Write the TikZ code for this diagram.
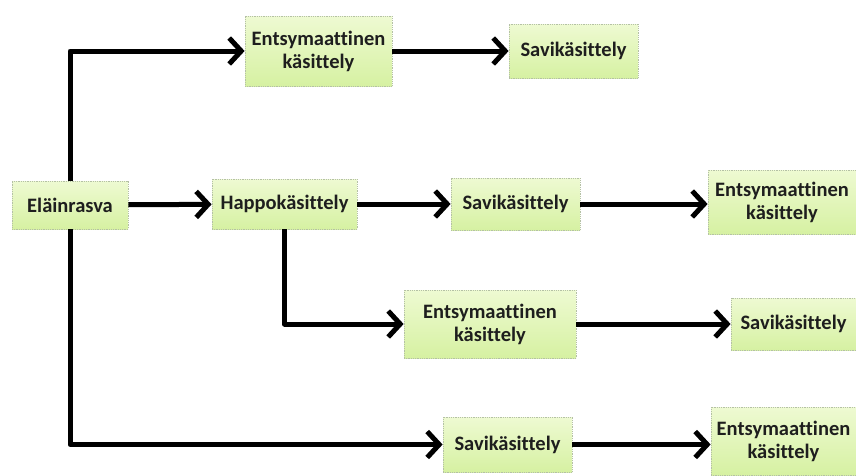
\documentclass[tikz,border=0pt]{standalone}
\usepackage{fontspec}
\setmainfont{Carlito}[Ligatures=NoCommon]
\usetikzlibrary{arrows.meta}
\definecolor{boxtop}{RGB}{238,250,210}
\definecolor{boxbot}{RGB}{214,241,162}
\definecolor{boxline}{RGB}{180,192,165}
\definecolor{txtgray}{RGB}{30,30,30}

\begin{document}
\begin{tikzpicture}[x=1pt,y=-1pt,
	box/.style={draw=boxline, densely dotted, line width=0.8pt, top color=boxtop, bottom color=boxbot,
		text=txtgray, font=\fontsize{20.5}{23}\selectfont\bfseries, align=center, inner sep=0pt},
	arr/.style={line width=5pt, line join=round, -{Straight Barb[length=12pt,width=26pt]}}]
	\useasboundingbox (0,0) rectangle (856,475);
	% boxes
	\node[box, minimum width=116pt, minimum height=48pt] (elain) at (70,205) {Eläinrasva};
	\node[box, minimum width=145pt, minimum height=50pt] (happo) at (284.5,204) {Happokäsittely};
	\node[box, minimum width=147pt, minimum height=70pt] (entsA) at (318.5,51) {Entsymaattinen\\käsittely};
	\node[box, minimum width=129pt, minimum height=54pt] (saviA) at (573.5,51) {Savikäsittely};
	\node[box, minimum width=129pt, minimum height=52pt] (saviB) at (515.5,204) {Savikäsittely};
	\node[box, minimum width=148pt, minimum height=64pt] (entsB) at (782,202) {Entsymaattinen\\käsittely};
	\node[box, minimum width=172pt, minimum height=68pt] (entsC) at (490,324) {Entsymaattinen\\käsittely};
	\node[box, minimum width=125pt, minimum height=52pt] (saviC) at (793.5,324) {Savikäsittely};
	\node[box, minimum width=129pt, minimum height=55pt] (saviD) at (507.5,444.5) {Savikäsittely};
	\node[box, minimum width=145pt, minimum height=68pt] (entsD) at (783.5,441) {Entsymaattinen\\käsittely};
	% arrows
	\draw[arr] (elain.north) |- (entsA.west);
	\draw[arr] (entsA) -- (saviA);
	\draw[arr] (elain) -- (happo);
	\draw[arr] (happo) -- (saviB);
	\draw[arr] (saviB) -- (entsB.west |- saviB);
	\draw[arr] (happo.south) |- (entsC.west);
	\draw[arr] (entsC) -- (saviC.west |- entsC);
	\draw[arr] (elain.south) |- (saviD.west);
	\draw[arr] (saviD) -- (entsD.west |- saviD);
\end{tikzpicture}
\end{document}
